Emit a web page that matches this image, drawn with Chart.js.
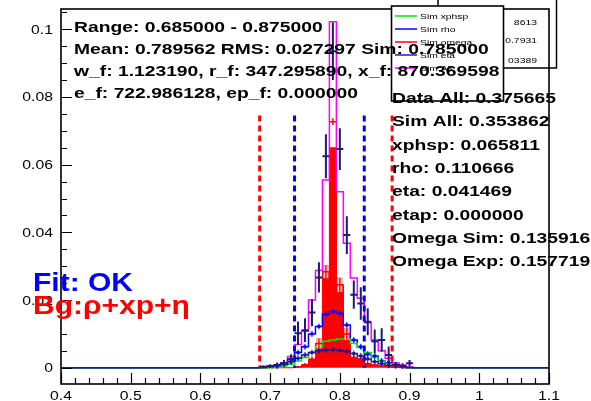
<!DOCTYPE html>
<html>
<head>
<meta charset="utf-8">
<script src="https://cdn.jsdelivr.net/npm/chart.js@4.4.1/dist/chart.umd.min.js"></script>
<style>
  html, body { margin: 0; padding: 0; background: #ffffff; }
  canvas { display: block; }
</style>
</head>
<body>
<canvas id="c" width="591" height="401"></canvas>
<script>
// Mass bins (centres, width 0.01)
const binCenters = [0.69, 0.70, 0.71, 0.72, 0.73, 0.74, 0.75, 0.76, 0.77, 0.78, 0.79,
                    0.80, 0.81, 0.82, 0.83, 0.84, 0.85, 0.86, 0.87, 0.88, 0.89, 0.90];
const binWidth = 0.01;

// Simulated components
const simAll       = [0.0003, 0.0005, 0.0008, 0.0015, 0.0033, 0.0069, 0.0108, 0.0200, 0.0287, 0.0555, 0.1022,
                      0.0520, 0.0368, 0.0265, 0.0205, 0.0133, 0.0082, 0.0050, 0.0028, 0.0014, 0.0008, 0.0002];
const simOmegaFill = [0, 0, 0, 0, 0, 0.0003, 0.0009, 0.0025, 0.0072, 0.0284, 0.0650,
                      0.0245, 0.0100, 0.0030, 0.0026, 0.0012, 0.0008, 0.0005, 0.0004, 0.0002, 0, 0];
const simOmega     = [0.0002, 0, 0, 0, 0, 0.0003, 0.0009, 0.0025, 0.0072, 0.0284, 0.0727,
                      0.0245, 0.0100, 0.0030, 0.0026, 0.0012, 0.0008, 0.0005, 0.0004, 0.0002, 0, 0];
const simOmegaErr  = [0.0004, 0, 0, 0, 0, 0.0003, 0.0005, 0.0008, 0.0014, 0.0018, 0.0010,
                      0.0020, 0.0016, 0.0008, 0.0008, 0.0005, 0.0004, 0.0003, 0.0003, 0.0002, 0, 0];
const simRho       = [0.0001, 0.0003, 0.0006, 0.0012, 0.0025, 0.0045, 0.0062, 0.0100, 0.0122, 0.0158, 0.0166,
                      0.0160, 0.0126, 0.0082, 0.0062, 0.0040, 0.0035, 0.0020, 0.0015, 0.0008, 0.0004, 0.0001];
const simXphsp     = [0, 0, 0.0002, 0.0005, 0.0010, 0.0020, 0.0030, 0.0045, 0.0062, 0.0078, 0.0082,
                      0.0085, 0.0085, 0.0072, 0.0060, 0.0045, 0.0030, 0.0020, 0.0012, 0.0006, 0.0002, 0];
const simEta       = [0.0001, 0.0003, 0.0006, 0.0010, 0.0018, 0.0028, 0.0038, 0.0045, 0.0050, 0.0052, 0.0053,
                      0.0051, 0.0048, 0.0042, 0.0035, 0.0026, 0.0018, 0.0012, 0.0007, 0.0004, 0.0002, 0];

// Measured data with errors
const dataVals = [0.0003, 0.0005, 0.0008, 0.0014, 0.0025, 0.0102, 0.0111, 0.0163, 0.0267, 0.0625, 0.0935,
                  0.0646, 0.0392, 0.0216, 0.0190, 0.0136, 0.0078, 0.0082, 0.0038, 0.0008, 0.0005, 0.0013];
const dataErr  = [0.0004, 0.0005, 0.0007, 0.0009, 0.0015, 0.0035, 0.0035, 0.0040, 0.0045, 0.0065, 0.0085,
                  0.0062, 0.0056, 0.0042, 0.0048, 0.0040, 0.0035, 0.0035, 0.0025, 0.0010, 0.0008, 0.0010];

// Axes
const xTicks = [0.4, 0.5, 0.6, 0.7, 0.8, 0.9, 1.0, 1.1];
const xTickLabels = ['0.4', '0.5', '0.6', '0.7', '0.8', '0.9', '1', '1.1'];
const yTicks = [0, 0.02, 0.04, 0.06, 0.08, 0.1];
const yTickLabels = ['0', '0.02', '0.04', '0.06', '0.08', '0.1'];

// Fit range and peak window markers
const rangeLines = [0.685, 0.875];
const windowLines = [0.735, 0.835];
const cutLineTop = 0.0745;

// Annotation texts
const infoLeft = [
  'Range: 0.685000 - 0.875000',
  'Mean: 0.789562 RMS: 0.027297 Sim: 0.785000',
  'w_f: 1.123190, r_f: 347.295890, x_f: 870.369598',
  'e_f: 722.986128, ep_f: 0.000000'
];
const infoRight = [
  'Data All: 0.375665',
  'Sim All: 0.353862',
  'xphsp: 0.065811',
  'rho: 0.110666',
  'eta: 0.041469',
  'etap: 0.000000',
  'Omega Sim: 0.135916',
  'Omega Exp: 0.157719'
];
const fitStatus = 'Fit: OK';
const bgLabel = 'Bg:\u03C1+xp+\u03B7';
const legendLabels = ['Sim xphsp', 'Sim rho', 'Sim omega', 'Sim eta', 'Sim All'];
const legendColors = ['#00ee00', '#0000ff', '#ff0000', '#2222bb', '#ff00ff'];
const statsLabels = ['8613', '0.7931', '03389'];

const COL = {
  all: '#ff00ff', omega: '#ff0000', rho: '#0000ff', xphsp: '#00ee00',
  eta: '#1a1a99', data: '#1c1c78'
};

// Turn per-bin contents into a step outline spanning the full axis
function steps(vals) {
  const lo = binCenters[0] - binWidth / 2;
  const hi = binCenters[binCenters.length - 1] + binWidth / 2;
  const pts = [{ x: 0.4, y: 0 }, { x: lo, y: 0 }];
  binCenters.forEach((c, i) => {
    pts.push({ x: c - binWidth / 2, y: vals[i] });
    pts.push({ x: c + binWidth / 2, y: vals[i] });
  });
  pts.push({ x: hi, y: 0 }, { x: 1.1, y: 0 });
  return pts;
}

// Horizontally stretched text
function stext(ctx, str, x, y, font, color, sx, align) {
  ctx.save();
  ctx.font = font;
  ctx.fillStyle = color;
  ctx.textBaseline = 'alphabetic';
  ctx.textAlign = 'left';
  const w = ctx.measureText(str).width * sx;
  let x0 = x;
  if (align === 'right') x0 = x - w;
  else if (align === 'center') x0 = x - w / 2;
  ctx.translate(x0, y);
  ctx.scale(sx, 1);
  ctx.fillText(str, 0, 0);
  ctx.restore();
}

const FONT = '"Liberation Sans", Arial, Helvetica, sans-serif';

const decor = {
  id: 'decor',
  afterDatasetsDraw(chart) {
    const { ctx, scales: { x, y }, chartArea: a } = chart;
    ctx.save();
    ctx.beginPath();
    ctx.rect(a.left, a.top, a.right - a.left, a.bottom - a.top);
    ctx.clip();

    // omega error boxes and markers
    binCenters.forEach((c, i) => {
      const v = simOmega[i];
      if (v <= 0) return;
      const e = simOmegaErr[i];
      const px = x.getPixelForValue(c);
      const py = y.getPixelForValue(v);
      if (v <= simOmegaFill[i] && v > 0.005) {
        const x1 = x.getPixelForValue(c - binWidth * 0.3);
        const x2 = x.getPixelForValue(c + binWidth * 0.3);
        const y1 = y.getPixelForValue(v + e);
        const y2 = y.getPixelForValue(v - e);
        ctx.fillStyle = '#ffffff';
        ctx.fillRect(x1, y1, x2 - x1, y2 - y1);
        ctx.strokeStyle = '#ff8080';
        ctx.lineWidth = 1;
        ctx.strokeRect(x1, y1, x2 - x1, y2 - y1);
      }
      ctx.strokeStyle = COL.omega;
      ctx.lineWidth = 1.5;
      ctx.beginPath();
      ctx.moveTo(x.getPixelForValue(c - binWidth / 2), py);
      ctx.lineTo(x.getPixelForValue(c + binWidth / 2), py);
      ctx.moveTo(px, y.getPixelForValue(v - e));
      ctx.lineTo(px, y.getPixelForValue(v + e));
      ctx.stroke();
    });

    // markers on rho and eta
    [[simRho, COL.rho], [simEta, COL.eta]].forEach(([vals, col]) => {
      ctx.fillStyle = col;
      ctx.strokeStyle = col;
      ctx.lineWidth = 1;
      binCenters.forEach((c, i) => {
        if (vals[i] <= 0.0005) return;
        const px = x.getPixelForValue(c);
        const py = y.getPixelForValue(vals[i]);
        ctx.fillRect(px - 1.5, py - 1.5, 3, 3);
        ctx.beginPath();
        ctx.moveTo(px, py - 3);
        ctx.lineTo(px, py + 3);
        ctx.stroke();
      });
    });

    // dashed range / window lines
    ctx.lineWidth = 3;
    ctx.setLineDash([6, 4]);
    [[rangeLines, '#ff0000'], [windowLines, '#0000ff']].forEach(([xs, col]) => {
      ctx.strokeStyle = col;
      xs.forEach(v => {
        const px = x.getPixelForValue(v);
        ctx.beginPath();
        ctx.moveTo(px, y.getPixelForValue(cutLineTop));
        ctx.lineTo(px, y.getPixelForValue(0));
        ctx.stroke();
      });
    });
    ctx.setLineDash([]);

    // data points with error bars
    ctx.strokeStyle = COL.data;
    ctx.lineWidth = 2;
    binCenters.forEach((c, i) => {
      const px = x.getPixelForValue(c);
      const py = y.getPixelForValue(dataVals[i]);
      ctx.beginPath();
      ctx.moveTo(x.getPixelForValue(c - binWidth / 2), py);
      ctx.lineTo(x.getPixelForValue(c + binWidth / 2), py);
      ctx.moveTo(px, y.getPixelForValue(dataVals[i] - dataErr[i]));
      ctx.lineTo(px, y.getPixelForValue(dataVals[i] + dataErr[i]));
      ctx.stroke();
    });
    ctx.restore();
  },
  afterDraw(chart) {
    const { ctx, scales: { x, y }, chartArea: a } = chart;
    ctx.save();

    // stats box (partly hidden behind legend)
    ctx.strokeStyle = '#000000';
    ctx.lineWidth = 1.5;
    ctx.strokeRect(438, -2, 556.5 - 438, 70);
    statsLabels.forEach((s, i) => {
      stext(ctx, s, 537, [25, 43, 63][i], '8px ' + FONT, '#000000', 1.3, 'right');
    });

    // axis frame
    ctx.strokeStyle = '#000000';
    ctx.lineWidth = 1.6;
    ctx.strokeRect(a.left, a.top, a.right - a.left, a.bottom - a.top);

    // x ticks (inside, from bottom)
    ctx.lineWidth = 1.2;
    ctx.beginPath();
    for (let k = 0; k <= 35; k++) {
      const v = 0.4 + k * 0.02;
      const px = Math.round(x.getPixelForValue(v)) + 0.5;
      const len = (k % 5 === 0) ? 11 : 6;
      ctx.moveTo(px, a.bottom);
      ctx.lineTo(px, a.bottom - len);
    }
    // y ticks (inside, from left)
    for (let k = 0; k <= 21; k++) {
      const v = k * 0.005;
      const py = Math.round(y.getPixelForValue(v)) + 0.5;
      const len = (k % 4 === 0) ? 11 : 6;
      ctx.moveTo(a.left, py);
      ctx.lineTo(a.left + len, py);
    }
    ctx.stroke();

    // tick labels
    ctx.textBaseline = 'alphabetic';
    xTicks.forEach((v, i) => {
      stext(ctx, xTickLabels[i], x.getPixelForValue(v), 400, '12.5px ' + FONT, '#000000', 1.26, 'center');
    });
    yTicks.forEach((v, i) => {
      stext(ctx, yTickLabels[i], 53, y.getPixelForValue(v) + 4.5, '12.5px ' + FONT, '#000000', 1.26, 'right');
    });

    // legend box
    ctx.fillStyle = '#ffffff';
    ctx.fillRect(391.5, 6, 503.5 - 391.5, 95);
    ctx.strokeStyle = '#000000';
    ctx.lineWidth = 1.6;
    ctx.strokeRect(391.5, 6, 503.5 - 391.5, 95);
    legendLabels.forEach((s, i) => {
      const ly = 16 + i * 13;
      ctx.strokeStyle = legendColors[i];
      ctx.lineWidth = 1.5;
      ctx.beginPath();
      ctx.moveTo(395, ly);
      ctx.lineTo(417, ly);
      ctx.stroke();
      stext(ctx, s, 420, ly + 3, '8px ' + FONT, '#000000', 1.29, 'left');
    });

    // annotation text
    const bold = 'bold 15px ' + FONT;
    [32, 54, 76, 98].forEach((by, i) => stext(ctx, infoLeft[i], 74, by, bold, '#000000', 1.285, 'left'));
    infoRight.forEach((s, i) => stext(ctx, s, 392, 103 + i * 23.3, bold, '#000000', 1.285, 'left'));
    stext(ctx, fitStatus, 33, 291, 'bold 25px ' + FONT, '#0000ff', 1.2, 'left');
    stext(ctx, bgLabel, 33, 314, 'bold 25px ' + FONT, '#ff0000', 1.2, 'left');
    ctx.restore();
  }
};

const lineDs = (label, vals, color, order, extra) => Object.assign({
  label, data: steps(vals), borderColor: color, borderWidth: 1.5,
  pointRadius: 0, tension: 0, fill: false, order
}, extra || {});

new Chart(document.getElementById('c'), {
  type: 'line',
  data: {
    datasets: [
      lineDs('Sim eta', simEta, COL.eta, 1),
      lineDs('Sim xphsp', simXphsp, COL.xphsp, 2),
      lineDs('Sim rho', simRho, COL.rho, 3),
      lineDs('Sim All', simAll, COL.all, 4),
      lineDs('Sim omega', simOmegaFill, COL.omega, 5, { fill: 'origin', backgroundColor: '#ff0000', borderWidth: 1 })
    ]
  },
  options: {
    responsive: false,
    animation: false,
    devicePixelRatio: 1,
    layout: { padding: { left: 61, right: 42, top: 9, bottom: 17 } },
    plugins: { legend: { display: false }, tooltip: { enabled: false } },
    scales: {
      x: { type: 'linear', min: 0.4, max: 1.1, display: false },
      y: { type: 'linear', min: -0.0048, max: 0.106, display: false }
    }
  },
  plugins: [decor]
});
</script>
</body>
</html>
